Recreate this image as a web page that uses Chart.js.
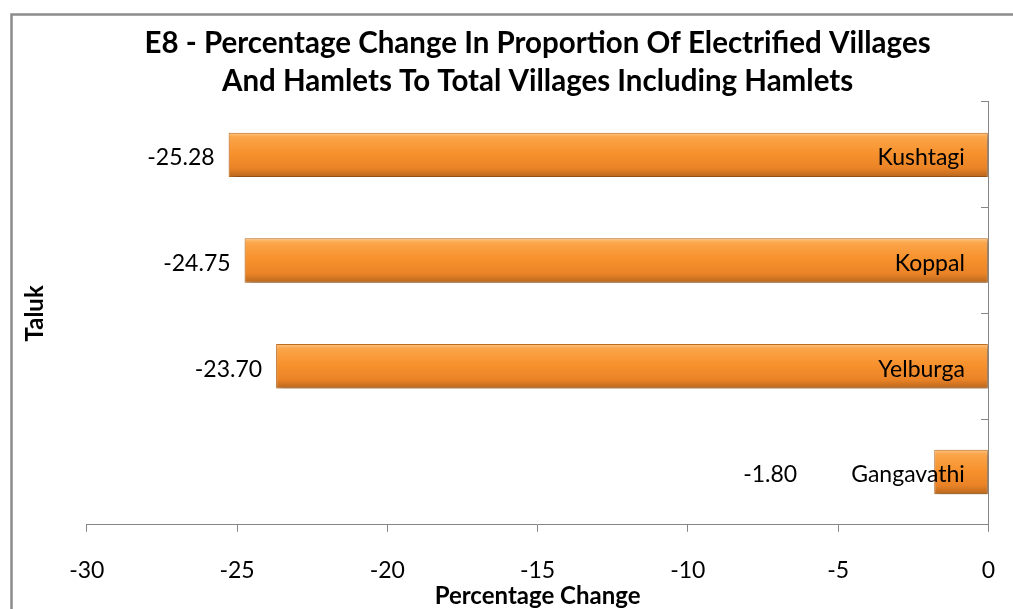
<!DOCTYPE html>
<html>
<head>
<meta charset="utf-8">
<script src="https://cdn.jsdelivr.net/npm/chart.js@4.4.1/dist/chart.umd.min.js"></script>
<style>
  html, body { margin: 0; padding: 0; background: #fff; overflow: hidden; }
  #wrap { width: 1013px; height: 609px; position: relative; }
</style>
</head>
<body>
<div id="wrap"><canvas id="taluk"></canvas></div>
<script>
// E8 data: change in proportion of electrified villages, by taluk
const talukNames = ["Kushtagi", "Koppal", "Yelburga", "Gangavathi"];
const pctChange = [-25.28, -24.75, -23.70, -1.80];
const xTicks = [-30, -25, -20, -15, -10, -5, 0];

const FONT = "Lato, 'Open Sans', sans-serif";
const BAR_PCT = 0.42;
const AXIS_GREY = "#868686";

// vertical orange gradient per bar, sized from the category scale
function barFill(c) {
  const chart = c.chart;
  const y = chart.scales.y;
  if (!chart.chartArea || !y || c.dataIndex === undefined) return "#f7941e";
  const mid = y.getPixelForValue(c.dataIndex);
  const half = (y.height / talukNames.length) * BAR_PCT / 2;
  const g = chart.ctx.createLinearGradient(0, mid - half, 0, mid + half);
  g.addColorStop(0, "#fdc784");
  g.addColorStop(0.1, "#fba54a");
  g.addColorStop(0.45, "#f7922e");
  g.addColorStop(0.8, "#ea8326");
  g.addColorStop(1, "#b8661e");
  return g;
}

// grey frame around the whole chart
const frame = {
  id: "frame",
  beforeDraw(chart) {
    const ctx = chart.ctx;
    ctx.save();
    ctx.strokeStyle = "#8c8c8c";
    ctx.lineWidth = 2.5;
    ctx.strokeRect(11.5, 14.5, chart.width + 20, chart.height + 20);
    ctx.restore();
  }
};

// soft drop shadow under the bars
const barShadow = {
  id: "barShadow",
  beforeDatasetsDraw(chart) {
    const ctx = chart.ctx;
    ctx.save();
    ctx.shadowColor = "rgba(0,0,0,0.35)";
    ctx.shadowBlur = 6;
    ctx.shadowOffsetX = 2;
    ctx.shadowOffsetY = 3;
  },
  afterDatasetsDraw(chart) {
    chart.ctx.restore();
  }
};

// taluk name inside the bar end, value just outside the bar
const barLabels = {
  id: "barLabels",
  afterDraw(chart) {
    const ctx = chart.ctx;
    const meta = chart.getDatasetMeta(0);
    ctx.save();
    ctx.font = "23px " + FONT;
    ctx.fillStyle = "#000";
    ctx.textBaseline = "middle";
    meta.data.forEach((bar, i) => {
      const left = Math.min(bar.x, bar.base);
      const right = Math.max(bar.x, bar.base);
      const yMid = bar.y + 3;
      const name = talukNames[i];
      const nameRight = right - 23;
      const nameLeft = nameRight - ctx.measureText(name).width;
      ctx.textAlign = "right";
      ctx.fillText(name, nameRight, yMid);
      const valRight = Math.min(left - 14, nameLeft - 54);
      ctx.fillText(pctChange[i].toFixed(2), valRight, yMid);
    });
    ctx.restore();
  }
};

new Chart(document.getElementById("taluk"), {
  type: "bar",
  data: {
    labels: talukNames,
    datasets: [{
      label: "Percentage Change",
      data: pctChange,
      backgroundColor: barFill,
      borderColor: "#c8701f",
      borderWidth: 1,
      borderSkipped: false,
      barPercentage: BAR_PCT,
      categoryPercentage: 1
    }]
  },
  plugins: [frame, barShadow, barLabels],
  options: {
    indexAxis: "y",
    responsive: true,
    maintainAspectRatio: false,
    animation: false,
    layout: { padding: { left: 12, right: 18, top: 10, bottom: 0 } },
    plugins: {
      legend: { display: false },
      tooltip: { enabled: false },
      title: {
        display: true,
        fullSize: false,
        text: ["E8 - Percentage Change In Proportion Of Electrified Villages",
               "And Hamlets To Total Villages Including Hamlets"],
        color: "#000",
        font: { family: FONT, size: 29.5, weight: "bold", lineHeight: 1.288 },
        padding: { top: 14, bottom: 2 }
      }
    },
    scales: {
      x: {
        min: xTicks[0],
        max: xTicks[xTicks.length - 1],
        ticks: {
          stepSize: xTicks[1] - xTicks[0],
          color: "#000",
          font: { family: FONT, size: 23, lineHeight: 1.8 },
          padding: 18
        },
        grid: { drawOnChartArea: false, drawTicks: true, tickLength: 7, color: AXIS_GREY },
        border: { display: true, color: AXIS_GREY, width: 1 },
        title: {
          display: true,
          text: "Percentage Change",
          color: "#000",
          font: { family: FONT, size: 24, weight: "bold" },
          padding: { top: -27, bottom: -2 }
        }
      },
      y: {
        position: "left",
        ticks: { display: false },
        grid: { display: false },
        border: { display: false },
        title: {
          display: true,
          text: "Taluk",
          color: "#000",
          font: { family: FONT, size: 24, weight: "bold" },
          padding: { top: 9, bottom: 29 }
        }
      },
      // category axis line drawn where the value axis reaches 0
      yAxis0: {
        type: "category",
        position: { x: 0 },
        offset: true,
        ticks: { display: false },
        grid: { offset: true, drawOnChartArea: false, drawTicks: true, tickLength: 7, color: AXIS_GREY },
        border: { display: true, color: AXIS_GREY, width: 1 }
      }
    }
  }
});
</script>
</body>
</html>
